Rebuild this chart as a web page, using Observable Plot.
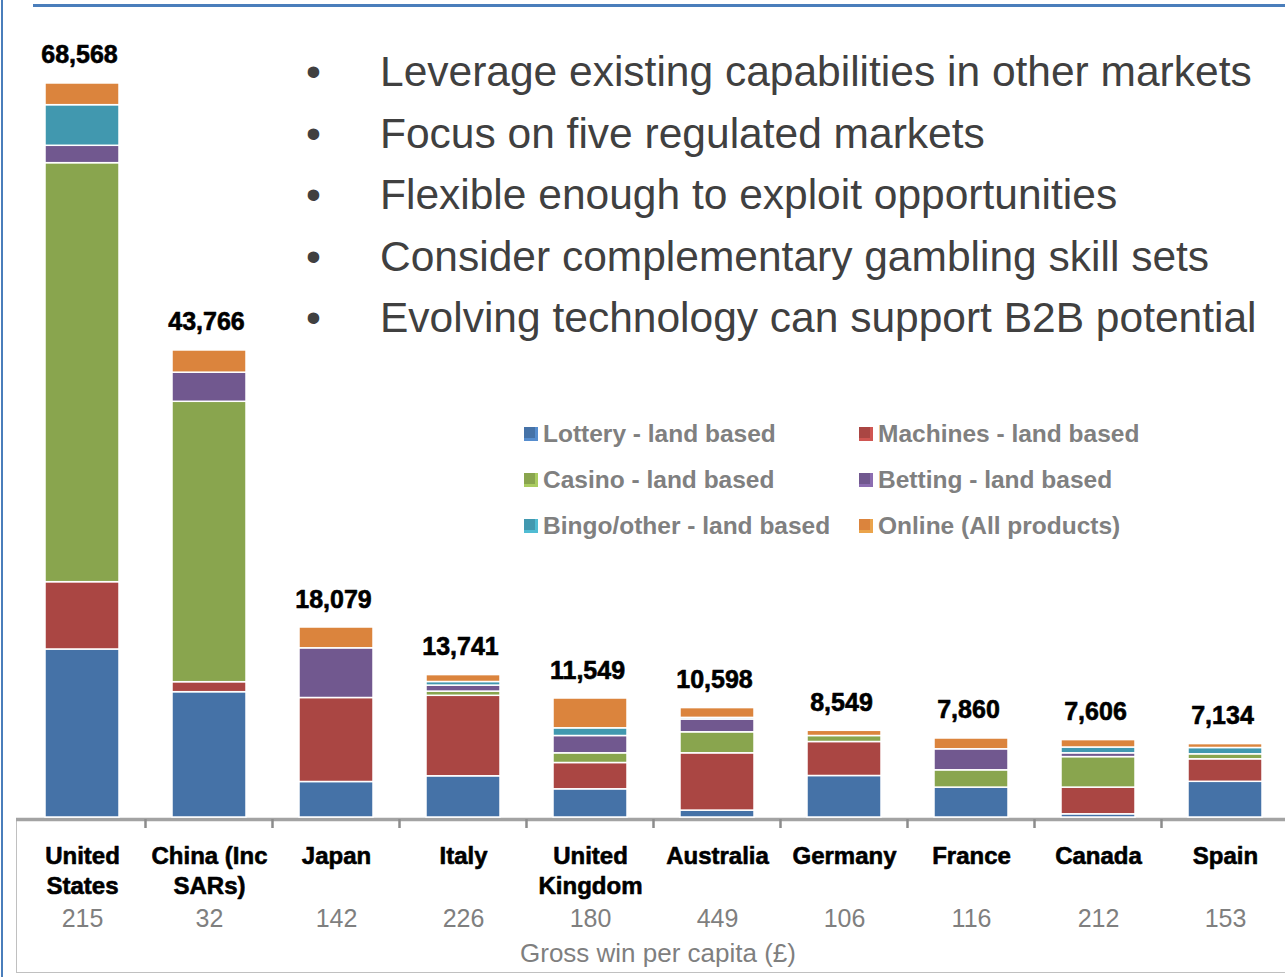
<!DOCTYPE html>
<html><head><meta charset="utf-8">
<script src="https://cdn.jsdelivr.net/npm/d3@7"></script>
<script src="https://cdn.jsdelivr.net/npm/@observablehq/plot@0.6"></script>
<style>
body{margin:0;background:#fff;font-family:"Liberation Sans",Arial,sans-serif;}
#wrap{position:relative;width:1285px;height:977px;overflow:hidden;background:#fff;}
#wrap svg{position:absolute;left:0;top:0;}
.frameTop{position:absolute;left:33px;top:4px;width:1260px;height:2.5px;background:#4a7ebb;}
.frameLeft{position:absolute;left:1px;top:0;width:2px;height:977px;background:#4a7ebb;}
.box{position:absolute;left:16px;top:820px;width:1290px;height:153px;border:1.5px solid #c0c0c0;box-sizing:border-box;}
.bullets{position:absolute;left:0;top:41px;}
.bullets div{position:relative;height:61.5px;line-height:61.5px;font-size:42.5px;color:#404040;white-space:nowrap;}
.bullets .dot{position:absolute;left:306px;}
.bullets .txt{position:absolute;left:380px;}
.legend{position:absolute;left:0;top:0;}
.legend .item{position:absolute;font-size:24.5px;font-weight:bold;color:#808080;line-height:26px;white-space:nowrap;}
.legend .sw{display:inline-block;width:11px;height:11px;border-right:3px solid;border-bottom:3px solid;margin-right:5px;vertical-align:1px;}
.caption{position:absolute;left:0;width:1316px;top:938px;text-align:center;font-size:26px;color:#7f7f7f;}
</style></head><body><div id="wrap"></div>
<script>
const countries = ["United States","China (Inc SARs)","Japan","Italy","United Kingdom","Australia","Germany","France","Canada","Spain"];
const countryLabels = ["United\nStates","China (Inc\nSARs)","Japan","Italy","United\nKingdom","Australia","Germany","France","Canada","Spain"];
const categories = ["Lottery - land based","Machines - land based","Casino - land based","Betting - land based","Bingo/other - land based","Online (All products)"];
const colors = ["#4572a7","#aa4643","#89a54e","#71588f","#4198af","#db843d"];
const lottery  = [15695,11706,3316,3850,2634,645,3877,2793,299,3335];
const machines = [6287,934,7847,7520,2457,5353,3176,0,2494,2102];
const casino   = [39143,26195,0,392,906,1962,560,1616,2849,467];
const betting  = [1625,2719,4643,560,1616,1196,0,1962,355,0];
const bingo    = [3793,0,0,336,719,150,0,0,542,589];
const online   = [2027,2074,1943,645,2784,915,486,1009,691,364];
const totalLabels = ["68,568","43,766","18,079","13,741","11,549","10,598","8,549","7,860","7,606","7,134"];
const perCapita = [215,32,142,226,180,449,106,116,212,153];
const bullets = ["Leverage existing capabilities in other markets","Focus on five regulated markets","Flexible enough to exploit opportunities","Consider complementary gambling skill sets","Evolving technology can support B2B potential"];
const xAxisTitle = "Gross win per capita (£)";
const yMax = 68568;

const series = [lottery, machines, casino, betting, bingo, online];
const rows = [];
countries.forEach((c, i) => categories.forEach((cat, j) => rows.push({country: c, category: cat, value: series[j][i]})));
const totals = countries.map((c, i) => ({country: c, label: totalLabels[i], total: d3.sum(series, s => s[i]), name: countryLabels[i], pc: String(perCapita[i])}));

const plot = Plot.plot({
  width: 1285, height: 977,
  marginTop: 0, marginRight: 0, marginBottom: 0, marginLeft: 0,
  style: {fontFamily: "'Liberation Sans', Arial, sans-serif", background: "transparent"},
  x: {type: "band", domain: countries, range: [16, 1290], paddingInner: 0.42, paddingOuter: 0.21, axis: null},
  y: {domain: [0, yMax], range: [817, 83], axis: null},
  color: {domain: categories, range: colors},
  marks: [
    Plot.ruleY([0], {stroke: "#a3a3a3", strokeWidth: 3.5, dy: 2, insetLeft: 16}),
    Plot.barY(rows, {x: "country", y: "value", fill: "category", stroke: "#ffffff", strokeWidth: 1.5}),
    Plot.text(totals, {x: "country", y: "total", text: "label", lineAnchor: "bottom", dy: -20, dx: -3, fontSize: 25, fontWeight: "bold", fill: "#000", stroke: "#000", strokeWidth: 0.6}),
    Plot.text(totals, {x: "country", y: 0, text: "name", lineAnchor: "top", dy: 25, fontSize: 24, lineHeight: 1.25, fontWeight: "bold", fill: "#000", stroke: "#000", strokeWidth: 0.6}),
    Plot.text(totals, {x: "country", y: 0, text: "pc", lineAnchor: "top", dy: 92, fontSize: 25, fill: "#7f7f7f"})
  ]
});

const wrap = document.getElementById("wrap");
wrap.innerHTML = '<div class="frameTop"></div><div class="frameLeft"></div><div class="box"></div>';
wrap.appendChild(plot);

// category boundary ticks from the library's x scale
const xs = plot.scale("x");
const svg = d3.select(plot);
const y0 = plot.scale("y").apply(0);
countries.slice(0, -1).forEach(c => {
  const xb = xs.apply(c) + xs.bandwidth + (xs.step - xs.bandwidth) / 2;
  svg.append("line").attr("x1", xb).attr("x2", xb).attr("y1", y0 + 2).attr("y2", y0 + 11)
    .attr("stroke", "#8c8c8c").attr("stroke-width", 2.5);
});

// bullets
const b = document.createElement("div");
b.className = "bullets";
bullets.forEach(t => {
  const d = document.createElement("div");
  d.innerHTML = '<span class="dot">\u2022</span><span class="txt"></span>';
  d.querySelector(".txt").textContent = t;
  b.appendChild(d);
});
wrap.appendChild(b);

// legend (two columns, three rows)
const lg = document.createElement("div");
lg.className = "legend";
categories.forEach((cat, j) => {
  const col = j % 2, row = Math.floor(j / 2);
  const it = document.createElement("div");
  it.className = "item";
  it.style.left = (col === 0 ? 524 : 859) + "px";
  it.style.top = (421 + row * 46) + "px";
  const sw = document.createElement("span");
  sw.className = "sw";
  sw.style.background = colors[j];
  sw.style.borderColor = d3.color(colors[j]).brighter(1.2).copy({opacity: 0.45}).formatRgb();
  it.appendChild(sw);
  it.appendChild(document.createTextNode(cat));
  lg.appendChild(it);
});
wrap.appendChild(lg);

const cap = document.createElement("div");
cap.className = "caption";
cap.textContent = xAxisTitle;
wrap.appendChild(cap);
</script>
</body></html>
